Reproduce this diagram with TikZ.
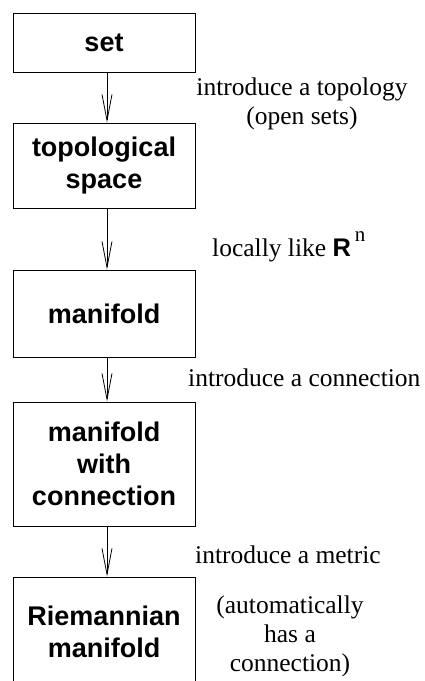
\documentclass[tikz,border=0pt]{standalone}
\usepackage{fontspec}
\setmainfont{Liberation Serif}
\setsansfont{Liberation Sans}
\usetikzlibrary{arrows.meta}

\begin{document}
\begin{tikzpicture}[x=1pt,y=-1pt,
    box/.style={draw,line width=1pt,minimum width=182pt,inner sep=0pt,align=center,
      font=\fontsize{27}{32}\selectfont\sffamily\bfseries},
    down/.style={line width=0.8pt,-{Straight Barb[length=26pt,width=10pt]}},
    note/.style={font=\fontsize{25.5}{29}\selectfont,inner sep=0pt,align=center}]
  \useasboundingbox (0,0) rectangle (425,681);
  \node[box,minimum height=59pt] (set) at (104,42.5) {set};
  \node[box,minimum height=85pt] (top) at (104,165.5) {topological\\space};
  \node[box,minimum height=87pt] (mfd) at (104,313.5) {manifold};
  \node[box,minimum height=124pt] (conn) at (104,464) {manifold\\with\\connection};
  \node[box,minimum height=110pt] (riem) at (104,632) {Riemannian\\manifold};
  \draw[down] ([xshift=3pt]set.south) -- ([xshift=3pt]top.north);
  \draw[down] ([xshift=3pt]top.south) -- ([xshift=3pt]mfd.north);
  \draw[down] ([xshift=3pt]mfd.south) -- ([xshift=3pt]conn.north);
  \draw[down] ([xshift=3pt]conn.south) -- ([xshift=3pt]riem.north);
  \node[note,anchor=base] (topo) at (302,124) {introduce a topology\\(open sets)};
  \node[note,anchor=base west] (loc) at (212,256)
    {locally like {\sffamily\bfseries R}\hspace{4pt}\raisebox{15pt}{\fontsize{21}{21}\selectfont n}};
  \node[note,anchor=base west] (connlab) at (188,386) {introduce a connection};
  \node[note,anchor=base west] (metric) at (195,563) {introduce a metric};
  \node[note,anchor=base] (auto) at (290,671) {(automatically\\has a\\connection)};
\end{tikzpicture}
\end{document}
